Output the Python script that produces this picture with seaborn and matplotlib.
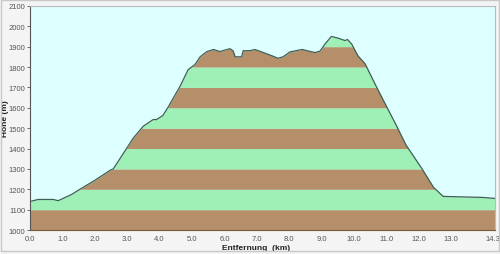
import numpy as np
import pandas as pd
import matplotlib
matplotlib.use("Agg")
import matplotlib.pyplot as plt
import seaborn as sns
from matplotlib.patches import Rectangle

# Elevation profile data (distance km, elevation m)
distance_km = [0.0, 0.25, 0.72, 0.87, 1.29, 1.54, 2.0, 2.47, 2.57, 2.98, 3.18, 3.5,
               3.8, 3.9, 4.1, 4.27, 4.43, 4.63, 4.88, 5.09, 5.25, 5.45, 5.66, 5.86,
               6.17, 6.27, 6.33, 6.53, 6.58, 6.79, 6.94, 7.2, 7.47, 7.65, 7.81, 8.02,
               8.4, 8.6, 8.8, 8.95, 9.1, 9.3, 9.5, 9.72, 9.8, 9.93, 10.12, 10.34,
               10.65, 10.9, 11.3, 11.6, 12.1, 12.45, 12.75, 13.98, 14.35]
elevation_m = [1140, 1150, 1150, 1144, 1175, 1200, 1244, 1293, 1300, 1400, 1450, 1510,
               1542, 1542, 1562, 1605, 1650, 1705, 1787, 1812, 1850, 1875, 1886, 1876,
               1890, 1879, 1850, 1850, 1880, 1880, 1886, 1871, 1855, 1843, 1850, 1874,
               1886, 1878, 1871, 1878, 1912, 1950, 1942, 1930, 1935, 1912, 1855, 1816,
               1716, 1638, 1515, 1418, 1300, 1210, 1165, 1160, 1155]

x_ticks = [0, 1, 2, 3, 4, 5, 6, 7, 8, 9, 10, 11, 12, 13, 14.3]
x_ticklabels = ["0.0", "1.0", "2.0", "3.0", "4.0", "5.0", "6.0", "7.0", "8.0",
                "9.0", "10.0", "11.0", "12.0", "13.0", "14.3"]
y_ticks = [1000, 1100, 1200, 1300, 1400, 1500, 1600, 1700, 1800, 1900, 2000, 2100]

df = pd.DataFrame({"km": distance_km, "m": elevation_m})

sns.set_theme(style="white")
plt.rcParams['font.family'] = ['Liberation Sans', 'DejaVu Sans']

fig = plt.figure(figsize=(5.0, 2.55), dpi=100)
fig.patch.set_facecolor("#f4f4f4")
fig.patches.append(Rectangle((0.002, 0.01), 0.996, 0.985, transform=fig.transFigure,
                             fill=False, edgecolor="#c8c8c8", lw=1.0))
ax = fig.add_axes([0.06, 0.094, 0.93, 0.879])
ax.set_facecolor("#ddffff")

x = np.array(distance_km, dtype=float)
y = np.array(elevation_m, dtype=float)
# dense resample for clean band filling
xd = np.linspace(x.min(), x.max(), 2000)
yd = np.interp(xd, x, y)
brown = "#b58f69"
green = "#9ff0b6"
for i, lo in enumerate(range(1000, 2100, 100)):
    hi = lo + 100
    col = brown if i % 2 == 0 else green
    top = np.clip(yd, lo, hi)
    ax.fill_between(xd, lo, top, where=yd > lo, color=col, lw=0, interpolate=True)

sns.lineplot(data=df, x="km", y="m", ax=ax, color="#3f5f55", lw=0.9)

ax.set_xlim(0, 14.35)
ax.set_ylim(1000, 2100)
ax.set_xticks(x_ticks)
ax.set_xticklabels(x_ticklabels)
ax.set_yticks(y_ticks)
ax.tick_params(axis="both", labelsize=5.5, labelcolor="#555555", length=2,
               width=0.6, color="#555555", pad=1.5)
ax.tick_params(axis="y", left=True)
ax.tick_params(axis="x", bottom=False)
ax.set_xlabel("Entfernung  (km)", fontsize=6, fontweight="bold", color="#222222")
ax.set_ylabel("Höhe (m)", fontsize=6, fontweight="bold", color="#222222")
ax.xaxis.set_label_coords(0.486, -0.062)
ax.yaxis.set_label_coords(-0.045, 0.5)
for s in ["top", "right"]:
    ax.spines[s].set_color("#bbbbbb")
    ax.spines[s].set_linewidth(0.8)
ax.spines["left"].set_color("#555555")
ax.spines["left"].set_linewidth(0.8)
ax.spines["bottom"].set_color("#7a5a3a")
ax.spines["bottom"].set_linewidth(0.8)

fig.savefig("out.png", dpi=100, facecolor=fig.get_facecolor())
